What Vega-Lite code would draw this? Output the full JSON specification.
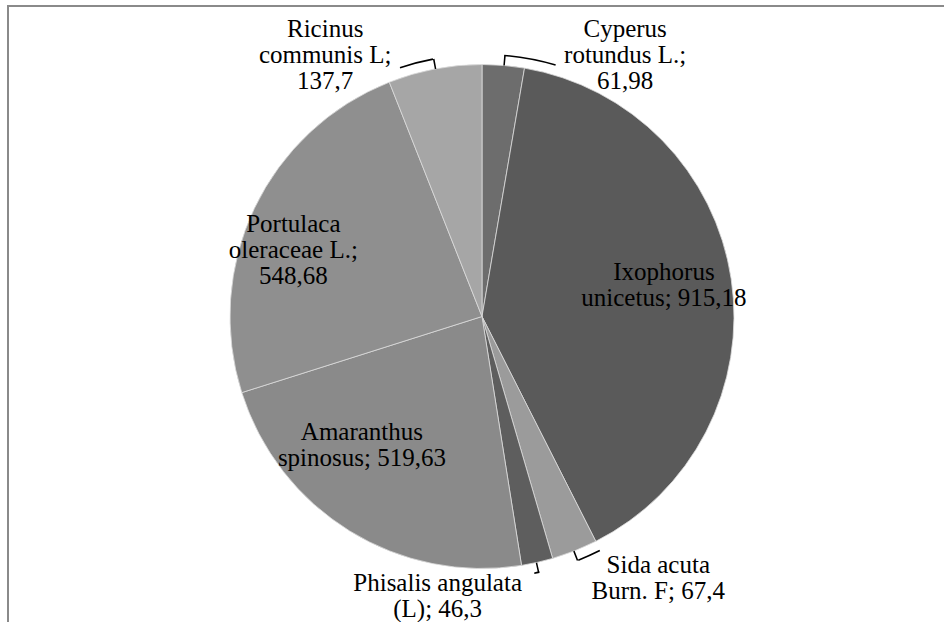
{
  "$schema": "https://vega.github.io/schema/vega-lite/v6.json",
  "width": 948,
  "height": 621,
  "autosize": "none",
  "padding": {"left": 8, "top": 6, "right": 0, "bottom": 0},
  "background": "white",
  "view": {"stroke": "#8a8a8a", "strokeWidth": 2, "fill": "white"},
  "config": {"view": {"stroke": "#8a8a8a", "strokeWidth": 2}},
  "data": {
    "values": [
      {"order": 1, "name": "Cyperus rotundus L.", "value": 61.98, "label": "Cyperus\nrotundus L.;\n61,98"},
      {"order": 2, "name": "Ixophorus unicetus", "value": 915.18, "label": "Ixophorus\nunicetus; 915,18"},
      {"order": 3, "name": "Sida acuta Burn. F", "value": 67.4, "label": "Sida acuta\nBurn. F; 67,4"},
      {"order": 4, "name": "Phisalis angulata (L)", "value": 46.3, "label": "Phisalis angulata\n(L); 46,3"},
      {"order": 5, "name": "Amaranthus spinosus", "value": 519.63, "label": "Amaranthus\nspinosus; 519,63"},
      {"order": 6, "name": "Portulaca oleraceae L.", "value": 548.68, "label": "Portulaca\noleraceae L.;\n548,68"},
      {"order": 7, "name": "Ricinus communis L", "value": 137.7, "label": "Ricinus\ncommunis L;\n137,7"}
    ]
  },
  "transform": [
    {"window": [{"op": "sum", "field": "value", "as": "cum"}], "sort": [{"field": "order", "order": "ascending"}], "frame": [null, 0]},
    {"calculate": "datum.cum - datum.value / 2", "as": "mid"}
  ],
  "layer": [
    {
      "mark": {"type": "arc", "outerRadius": 252, "stroke": "#dcdcdc", "strokeWidth": 0.8},
      "encoding": {
        "theta": {"field": "value", "type": "quantitative", "stack": true, "scale": {"domain": [0, 2296.87]}},
        "order": {"field": "order", "type": "quantitative"},
        "color": {
          "field": "name", "type": "nominal", "legend": null,
          "scale": {
            "domain": ["Cyperus rotundus L.", "Ixophorus unicetus", "Sida acuta Burn. F", "Phisalis angulata (L)", "Amaranthus spinosus", "Portulaca oleraceae L.", "Ricinus communis L"],
            "range": ["#6d6d6d", "#5a5a5a", "#9b9b9b", "#5e5e5e", "#8a8a8a", "#8f8f8f", "#a6a6a6"]
          }
        }
      }
    },
    {
      "transform": [{"filter": "datum.order == 1 || datum.order == 3 || datum.order == 4 || datum.order == 7"}],
      "mark": {"type": "arc", "radius": 262, "radius2": 252, "theta2Offset": 0.006, "color": "black"},
      "encoding": {
        "theta": {"field": "mid", "type": "quantitative"},
        "theta2": {"field": "mid"}
      }
    },
    {
      "transform": [{"filter": "datum.order == 1"}],
      "mark": {"type": "arc", "radius": 262.8, "radius2": 261.2, "theta2Offset": 0.2, "color": "black"},
      "encoding": {"theta": {"field": "mid", "type": "quantitative"}, "theta2": {"field": "mid"}}
    },
    {
      "transform": [{"filter": "datum.order == 7"}],
      "mark": {"type": "arc", "radius": 262.8, "radius2": 261.2, "theta2Offset": -0.13, "color": "black"},
      "encoding": {"theta": {"field": "mid", "type": "quantitative"}, "theta2": {"field": "mid"}}
    },
    {
      "transform": [{"filter": "datum.order == 3"}],
      "mark": {"type": "arc", "radius": 262.8, "radius2": 261.2, "theta2Offset": -0.09, "color": "black"},
      "encoding": {"theta": {"field": "mid", "type": "quantitative"}, "theta2": {"field": "mid"}}
    },
    {
      "transform": [{"filter": "datum.order == 4"}],
      "mark": {"type": "arc", "radius": 262.8, "radius2": 261.2, "theta2Offset": 0.02, "color": "black"},
      "encoding": {"theta": {"field": "mid", "type": "quantitative"}, "theta2": {"field": "mid"}}
    },
    {
      "transform": [{"filter": "datum.order == 2"}],
      "mark": {"type": "text", "font": "Liberation Serif", "fontSize": 25, "lineHeight": 26, "lineBreak": "\n", "align": "center", "baseline": "middle", "color": "black", "radius": 184, "dy": -17},
      "encoding": {"theta": {"field": "mid", "type": "quantitative"}, "text": {"field": "label"}}
    },
    {
      "transform": [{"filter": "datum.order == 6"}],
      "mark": {"type": "text", "font": "Liberation Serif", "fontSize": 25, "lineHeight": 26, "lineBreak": "\n", "align": "center", "baseline": "middle", "color": "black", "radius": 200, "dx": -8, "dy": -7},
      "encoding": {"theta": {"field": "mid", "type": "quantitative"}, "text": {"field": "label"}}
    },
    {
      "transform": [{"filter": "datum.order == 5"}],
      "mark": {"type": "text", "font": "Liberation Serif", "fontSize": 25, "lineHeight": 26, "lineBreak": "\n", "align": "center", "baseline": "middle", "color": "black", "radius": 160, "dx": -36, "dy": -21},
      "encoding": {"theta": {"field": "mid", "type": "quantitative"}, "text": {"field": "label"}}
    },
    {
      "transform": [{"filter": "datum.order == 7"}],
      "mark": {"type": "text", "font": "Liberation Serif", "fontSize": 25, "lineHeight": 26, "lineBreak": "\n", "align": "center", "baseline": "middle", "color": "black", "radius": 266, "dx": -107, "dy": -26},
      "encoding": {"theta": {"field": "mid", "type": "quantitative"}, "text": {"field": "label"}}
    },
    {
      "transform": [{"filter": "datum.order == 1"}],
      "mark": {"type": "text", "font": "Liberation Serif", "fontSize": 25, "lineHeight": 26, "lineBreak": "\n", "align": "center", "baseline": "middle", "color": "black", "radius": 262, "dx": 121, "dy": -26},
      "encoding": {"theta": {"field": "mid", "type": "quantitative"}, "text": {"field": "label"}}
    },
    {
      "transform": [{"filter": "datum.order == 3"}],
      "mark": {"type": "text", "font": "Liberation Serif", "fontSize": 25, "lineHeight": 26, "lineBreak": "\n", "align": "center", "baseline": "middle", "color": "black", "radius": 281, "dx": 73, "dy": -13},
      "encoding": {"theta": {"field": "mid", "type": "quantitative"}, "text": {"field": "label"}}
    },
    {
      "transform": [{"filter": "datum.order == 4"}],
      "mark": {"type": "text", "font": "Liberation Serif", "fontSize": 25, "lineHeight": 26, "lineBreak": "\n", "align": "center", "baseline": "middle", "color": "black", "radius": 286, "dx": -107, "dy": -13},
      "encoding": {"theta": {"field": "mid", "type": "quantitative"}, "text": {"field": "label"}}
    }
  ]
}
